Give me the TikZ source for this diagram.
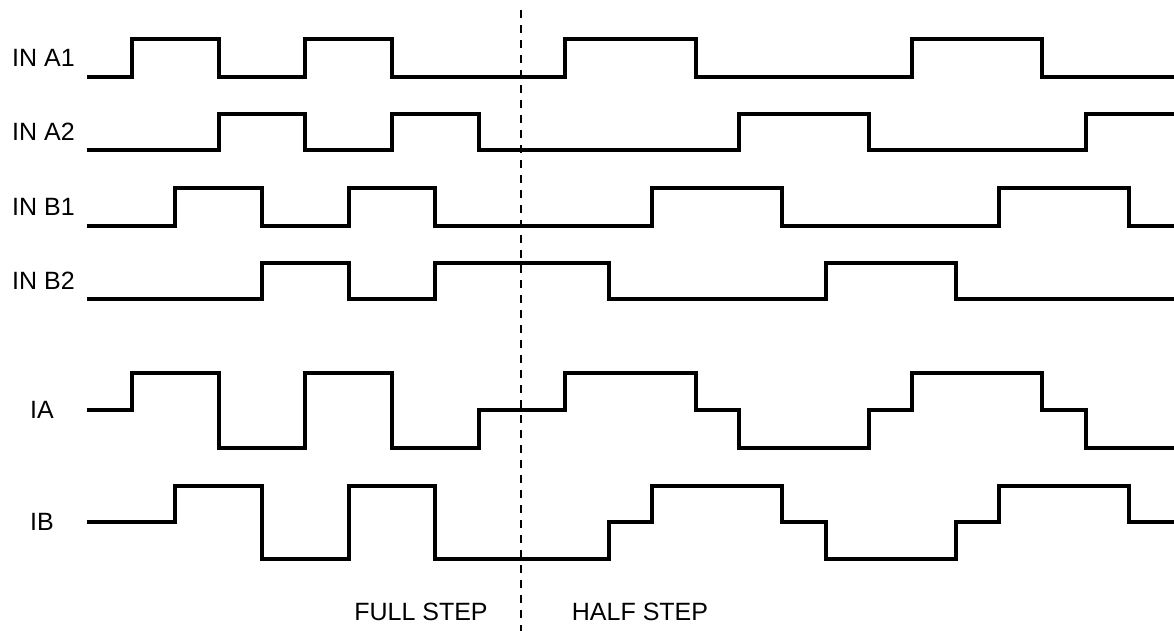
\documentclass[tikz,border=0pt]{standalone}
\usepackage{fontspec}
\setmainfont{Liberation Sans}
\begin{document}
\begin{tikzpicture}[
  wave/.style={line width=4pt, line join=miter, line cap=butt, black},
  lbl/.style={inner sep=0pt, anchor=west, font=\fontsize{25}{30}\selectfont},
  steplbl/.style={inner sep=0pt, font=\fontsize{25}{30}\selectfont},
  divider/.style={line width=1.8pt, dash pattern=on 8pt off 7pt, black}
]
\useasboundingbox[fill=white] (0pt,0pt) rectangle (1174pt,-630pt);

% labels
\node[lbl] (la1) at (12pt,-58pt) {IN A1};
\node[lbl] (la2) at (12pt,-132pt) {IN A2};
\node[lbl] (lb1) at (12pt,-207pt) {IN B1};
\node[lbl] (lb2) at (12pt,-281pt) {IN B2};
\node[lbl] (lia) at (30pt,-410pt) {IA};
\node[lbl] (lib) at (30pt,-522pt) {IB};
\node[steplbl] (full) at (421pt,-612pt) {FULL STEP};
\node[steplbl] (half) at (640pt,-612pt) {HALF STEP};

% divider
\coordinate (dtop) at (521pt,-10pt);
\coordinate (dbot) at (521pt,-632pt);
\draw[divider] (dtop) -- (dbot);

\begin{scope}[x=43.35pt, y=-1pt, xshift=88.6pt]
% IN A1
\draw[wave] (-0.04,77) -| (1,39) -| (3,77) -| (5,39) -| (7,77) -| (11,39) -| (14,77) -| (19,39) -| (22,77) -- (25.1,77);
% IN A2
\draw[wave] (-0.04,150) -| (3,114) -| (5,150) -| (7,114) -| (9,150) -| (15,114) -| (18,150) -| (23,114) -- (25.1,114);
% IN B1
\draw[wave] (-0.04,226) -| (2,188) -| (4,226) -| (6,188) -| (8,226) -| (13,188) -| (16,226) -| (21,188) -| (24,226) -- (25.1,226);
% IN B2
\draw[wave] (-0.04,299) -| (4,263) -| (6,299) -| (8,263) -| (12,299) -| (17,263) -| (20,299) -- (25.1,299);
% IA
\draw[wave] (-0.04,410) -| (1,373) -| (3,448) -| (5,373) -| (7,448) -| (9,410) -| (11,373) -| (14,410) -| (15,448) -| (18,410) -| (19,373) -| (22,410) -| (23,448) -- (25.1,448);
% IB
\draw[wave] (-0.04,522) -| (2,486) -| (4,559) -| (6,486) -| (8,559) -| (12,522) -| (13,486) -| (16,522) -| (17,559) -| (20,522) -| (21,486) -| (24,522) -- (25.1,522);
\end{scope}
\end{tikzpicture}
\end{document}
